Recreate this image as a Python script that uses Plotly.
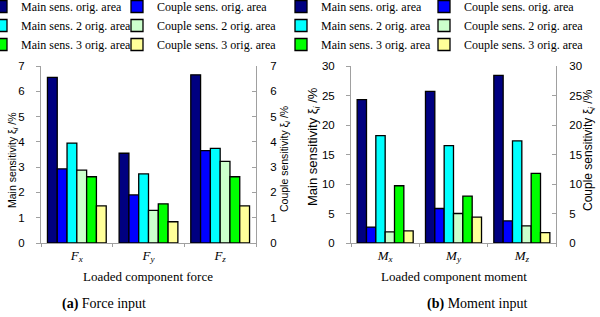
import plotly.graph_objects as go

force_cats = ["<i>F</i><sub><i>x</i></sub>", "<i>F</i><sub><i>y</i></sub>", "<i>F</i><sub><i>z</i></sub>"]
moment_cats = ["<i>M</i><sub><i>x</i></sub>", "<i>M</i><sub><i>y</i></sub>", "<i>M</i><sub><i>z</i></sub>"]

series_names = ["Main sens. orig. area", "Couple sens. orig. area",
                "Main sens. 2 orig. area", "Couple sens. 2 orig. area",
                "Main sens. 3 orig. area", "Couple sens. 3 orig. area"]
series_colors = ["#000080", "#0000FF", "#00FFFF", "#CCFFCC", "#00FF00", "#FFFF99"]

# force input values (per series, over Fx, Fy, Fz)
force_main_orig = [6.55, 3.55, 6.65]
force_couple_orig = [2.93, 1.90, 3.65]
force_main_2 = [3.95, 2.73, 3.74]
force_couple_2 = [2.88, 1.29, 3.23]
force_main_3 = [2.62, 1.55, 2.62]
force_couple_3 = [1.47, 0.84, 1.47]

# moment input values (per series, over Mx, My, Mz)
moment_main_orig = [24.3, 25.7, 28.4]
moment_couple_orig = [2.7, 5.85, 3.75]
moment_main_2 = [18.2, 16.5, 17.3]
moment_couple_2 = [1.9, 5.0, 2.9]
moment_main_3 = [9.7, 7.95, 11.8]
moment_couple_3 = [2.05, 4.4, 1.75]

force_series = [force_main_orig, force_couple_orig, force_main_2,
                force_couple_2, force_main_3, force_couple_3]
moment_series = [moment_main_orig, moment_couple_orig, moment_main_2,
                 moment_couple_2, moment_main_3, moment_couple_3]

force_ticks = [0, 1, 2, 3, 4, 5, 6, 7]
moment_ticks = [0, 5, 10, 15, 20, 25, 30]

W, H = 600, 317
def px(x):
    return x / W
def py(y):
    return 1 - y / H

SERIF = "Liberation Serif, Times New Roman, serif"
SANS = "Liberation Sans, Arial, sans-serif"

fig = go.Figure()
for i, (name, col) in enumerate(zip(series_names, series_colors)):
    fig.add_trace(go.Bar(x=force_cats, y=force_series[i], name=name,
                         marker=dict(color=col, line=dict(color="black", width=1.3)),
                         xaxis="x", yaxis="y",
                         legend="legend" if i % 2 == 0 else "legend2"))
for i, (name, col) in enumerate(zip(series_names, series_colors)):
    fig.add_trace(go.Bar(x=moment_cats, y=moment_series[i], name=name,
                         marker=dict(color=col, line=dict(color="black", width=1.3)),
                         xaxis="x2", yaxis="y3",
                         legend="legend3" if i % 2 == 0 else "legend4"))
# invisible carriers so that the secondary (right) axes are drawn
fig.add_trace(go.Scatter(x=[force_cats[0]], y=[0], xaxis="x", yaxis="y2", mode="markers",
                         marker=dict(opacity=0), showlegend=False, hoverinfo="skip"))
fig.add_trace(go.Scatter(x=[moment_cats[0]], y=[0], xaxis="x2", yaxis="y4", mode="markers",
                         marker=dict(opacity=0), showlegend=False, hoverinfo="skip"))

plot_top, plot_bot = 66, 243
ydom = [py(plot_bot), py(plot_top)]
axis_gray = "#a0a0a0"
tickfont = dict(family=SANS, size=11.5, color="black")

xcommon = dict(showline=True, linecolor=axis_gray, linewidth=1, ticks="outside",
               tickson="boundaries", ticklen=3, tickcolor=axis_gray,
               tickfont=dict(family=SERIF, size=13, color="black"), showgrid=False,
               fixedrange=True, automargin=False)
fig.update_layout(
    xaxis=dict(domain=[px(41), px(256)], anchor="y", **xcommon),
    xaxis2=dict(domain=[px(351), px(556)], anchor="y3", **xcommon),
    yaxis=dict(domain=ydom, anchor="x", range=[0, 7], tickvals=force_ticks,
               showline=True, linecolor=axis_gray, ticks="outside", ticklen=4,
               tickcolor=axis_gray, tickfont=tickfont, showgrid=False,
               ticklabelstandoff=9, zeroline=False, automargin=False),
    yaxis2=dict(overlaying="y", side="right", anchor="x", range=[0, 7],
                tickvals=force_ticks, showline=True, linecolor=axis_gray,
                ticks="inside", ticklen=4, tickcolor=axis_gray, tickfont=tickfont,
                showgrid=False, ticklabelstandoff=11, zeroline=False, automargin=False),
    yaxis3=dict(domain=ydom, anchor="x2", range=[0, 30], tickvals=moment_ticks,
                showline=True, linecolor=axis_gray, ticks="outside", ticklen=4,
                tickcolor=axis_gray, tickfont=tickfont, showgrid=False,
                ticklabelstandoff=9, zeroline=False, automargin=False),
    yaxis4=dict(overlaying="y3", side="right", anchor="x2", range=[0, 30],
                tickvals=moment_ticks, showline=True, linecolor=axis_gray,
                ticks="inside", ticklen=4, tickcolor=axis_gray, tickfont=tickfont,
                showgrid=False, ticklabelstandoff=10, zeroline=False, automargin=False),
    barmode="group", bargap=0.18, bargroupgap=0,
    width=W, height=H, margin=dict(l=0, r=0, t=0, b=0, autoexpand=False),
    paper_bgcolor="white", plot_bgcolor="white",
    font=dict(family=SERIF, color="black"),
)

legfont = dict(family=SERIF, size=12, color="black")
legcommon = dict(font=legfont, bgcolor="rgba(0,0,0,0)", xanchor="left", yanchor="top",
                 itemwidth=30, tracegroupgap=0, traceorder="normal")
fig.update_layout(
    legend=dict(x=px(-19), y=py(-8), **legcommon),
    legend2=dict(x=px(117), y=py(-8), **legcommon),
    legend3=dict(x=px(281), y=py(-8), **legcommon),
    legend4=dict(x=px(424), y=py(-8), **legcommon),
)

anns = [
    dict(x=px(13), y=py(160), text="Main sensitivity ξ<sub><i>i</i></sub> /%", textangle=-90,
         font=dict(family=SANS, size=10.5)),
    dict(x=px(285), y=py(159), text="Couple sensitivity ξ<sub><i>i</i></sub> /%", textangle=-90,
         font=dict(family=SANS, size=10.5)),
    dict(x=px(313), y=py(146), text="Main sensitivity ξ<sub><i>i</i></sub> /%", textangle=-90,
         font=dict(family=SANS, size=13)),
    dict(x=px(589), y=py(150), text="Couple sensitivity ξ<sub><i>i</i></sub> /%", textangle=-90,
         font=dict(family=SANS, size=12)),
    dict(x=px(148), y=py(276), text="Loaded component force", font=dict(family=SERIF, size=13)),
    dict(x=px(454), y=py(276), text="Loaded component moment", font=dict(family=SERIF, size=13)),
    dict(x=px(104), y=py(304), text="<b>(a)</b> Force input", font=dict(family=SERIF, size=14)),
    dict(x=px(477), y=py(304), text="<b>(b)</b> Moment input", font=dict(family=SERIF, size=14)),
]
for a in anns:
    a.update(xref="paper", yref="paper", showarrow=False, xanchor="center", yanchor="middle")
    a["font"]["color"] = "black"
fig.update_layout(annotations=anns)

fig.write_html("out.html", config={"displayModeBar": False},
               post_script="document.body.style.margin='0';")
